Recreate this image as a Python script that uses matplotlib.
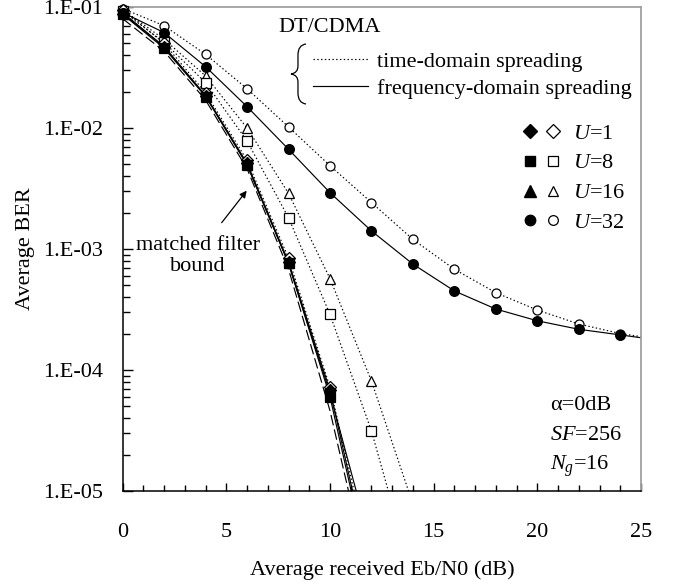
import numpy as np
import matplotlib
matplotlib.use('Agg')
import matplotlib.pyplot as plt
from matplotlib.lines import Line2D
from matplotlib.legend_handler import HandlerTuple
from matplotlib.path import Path
from matplotlib.patches import PathPatch
from matplotlib.ticker import MultipleLocator, LogLocator, FuncFormatter, NullFormatter

plt.rcParams['font.family'] = 'serif'
plt.rcParams['font.serif'] = ['Liberation Serif', 'DejaVu Serif']
plt.rcParams['mathtext.fontset'] = 'custom'
plt.rcParams['mathtext.rm'] = 'Liberation Serif'
plt.rcParams['mathtext.it'] = 'Liberation Serif:italic'
plt.rcParams['font.size'] = 16

# Eb/N0 (dB) grids
snr_short = [0, 2, 4, 6, 8, 10, 12]
snr_mid = [0, 2, 4, 6, 8, 10, 12, 14]
snr_long = [0, 2, 4, 6, 8, 10, 12, 14, 16, 18, 20, 22, 24, 26]

# matched filter bound
ber_bound = [0.080, 0.043, 0.0170, 0.0046, 6.8e-4, 4.6e-5, 1.5e-6]

# frequency-domain spreading (filled markers, solid lines)
ber_fd_u1 = [0.088, 0.047, 0.0185, 0.0051, 7.8e-4, 6.8e-5, 2.0e-6]
ber_fd_u8 = [0.087, 0.0456, 0.0182, 0.00494, 7.6e-4, 6.0e-5, 1.8e-6]
ber_fd_u16 = [0.090, 0.047, 0.0185, 0.0050, 7.6e-4, 6.4e-5, 3.4e-6]
ber_fd_u32 = [0.090, 0.0614, 0.0321, 0.0150, 0.00667, 0.00292, 0.00141,
              7.5e-4, 4.5e-4, 3.19e-4, 2.55e-4, 2.17e-4, 1.95e-4, 1.75e-4]

# time-domain spreading (open markers, dotted lines)
ber_td_u1 = [0.095, 0.050, 0.0195, 0.0054, 8.4e-4, 7.2e-5, 2.4e-6]
ber_td_u8 = [0.092, 0.051, 0.0237, 0.0078, 0.00181, 2.88e-4, 3.13e-5, 1.9e-6]
ber_td_u16 = [0.095, 0.054, 0.0269, 0.0100, 0.00288, 5.7e-4, 8.1e-5, 7.8e-6]
ber_td_u32 = [0.097, 0.070, 0.0406, 0.0211, 0.0102, 0.00488, 0.00242,
              0.0012, 6.8e-4, 4.35e-4, 3.13e-4, 2.4e-4, 2.0e-4, 1.78e-4]

user_labels = ['$U$=1', '$U$=8', '$U$=16', '$U$=32']

fig = plt.figure(figsize=(6.73, 5.88), dpi=100)
ax = fig.add_axes([0.1823, 0.165, 0.7701, 0.8231])
ax.set_yscale('log')
ax.set_xlim(0, 25)
ax.set_ylim(1e-5, 1e-1)

DOT = (0, (1.2, 2.0))


def axf(px, py):
    # pixel position in the figure -> axes fraction
    return ((px - 122.7) / 518.3, (491 - py) / 484)


def draw(x, y, ls, marker, filled, ms):
    x = np.array(x, dtype=float)
    y = np.array(y, dtype=float)
    ax.plot(x, y, color='black', ls=ls, lw=0.85, zorder=2)
    keep = (x <= 25) & (y >= 1e-5)
    ax.plot(x[keep], y[keep], ls='none', marker=marker, ms=ms,
            mfc='black' if filled else 'white', mec='black', mew=0.9,
            clip_on=False, zorder=3)


ax.plot(snr_short, ber_bound, color='black', ls=(0, (9, 3.5)), lw=0.85, zorder=2)

draw(snr_long, ber_td_u32, DOT, 'o', False, 6.5)
draw(snr_mid, ber_td_u16, DOT, '^', False, 7.5)
draw(snr_mid, ber_td_u8, DOT, 's', False, 6.5)
draw(snr_short, ber_td_u1, DOT, 'D', False, 6.5)
draw(snr_long, ber_fd_u32, '-', 'o', True, 7)
draw(snr_short, ber_fd_u16, '-', '^', True, 7.5)
draw(snr_short, ber_fd_u8, '-', 's', True, 6.5)
draw(snr_short, ber_fd_u1, '-', 'D', True, 6.5)

# axes styling
ax.xaxis.set_major_locator(MultipleLocator(5))
ax.xaxis.set_minor_locator(MultipleLocator(1))
ax.yaxis.set_major_locator(LogLocator(base=10, numticks=10))
ax.yaxis.set_minor_locator(LogLocator(base=10, subs=np.arange(2, 10), numticks=20))
ax.yaxis.set_minor_formatter(NullFormatter())
ax.yaxis.set_major_formatter(FuncFormatter(lambda v, p: '1.E-%02d' % round(-np.log10(v))))
ax.tick_params(axis='both', which='both', direction='in', top=False, right=False,
               width=1.0, labelsize=16)
ax.tick_params(axis='y', which='major', length=7, pad=14)
ax.tick_params(axis='y', which='minor', length=5)
ax.tick_params(axis='x', which='major', length=6, pad=23)
ax.tick_params(axis='x', which='minor', length=4)
for side in ['top', 'right']:
    ax.spines[side].set_color('#a0a0a0')
    ax.spines[side].set_linewidth(1.3)
for side in ['left', 'bottom']:
    ax.spines[side].set_linewidth(1.1)

ax.set_xlabel('Average received Eb/N0 (dB)', fontsize=16)
ax.set_ylabel('Average BER', fontsize=16)
ax.xaxis.set_label_coords(0.5, axf(0, 560)[1])
ax.yaxis.set_label_coords(axf(35, 0)[0], 0.5)

# DT/CDMA line-style legend
ax.text(*axf(278, 28), 'DT/CDMA', transform=ax.transAxes, ha='left', va='center', fontsize=16)
style_handles = [Line2D([], [], color='black', ls=DOT, lw=0.85),
                 Line2D([], [], color='black', ls='-', lw=0.85)]
leg1 = ax.legend(style_handles, ['time-domain spreading', 'frequency-domain spreading'],
                 loc='upper left', bbox_to_anchor=axf(312.7, 51), frameon=False,
                 fontsize=16, handlelength=2.48, handletextpad=0.41,
                 labelspacing=0.3, borderpad=0, borderaxespad=0)
ax.add_artist(leg1)

# curly brace
bx = [axf(*p) for p in [(306, 44), (298, 45), (298, 55), (298, 66), (298, 73), (291, 74),
                        (298, 75), (298, 82), (298, 93), (298, 103), (306, 104)]]
codes = [Path.MOVETO, Path.CURVE3, Path.CURVE3, Path.LINETO, Path.CURVE3, Path.CURVE3,
         Path.CURVE3, Path.CURVE3, Path.LINETO, Path.CURVE3, Path.CURVE3]
ax.add_patch(PathPatch(Path(bx, codes), transform=ax.transAxes, fc='none', ec='black',
                       lw=0.9, clip_on=False))

# marker legend
marker_list = ['D', 's', '^', 'o']
marker_sizes = [7.5, 7, 8, 7.5]
marker_handles = []
for m, s in zip(marker_list, marker_sizes):
    filled_h = Line2D([], [], ls='none', marker=m, ms=s, mfc='black', mec='black')
    open_h = Line2D([], [], ls='none', marker=m, ms=s - 0.5, mfc='white', mec='black', mew=0.9)
    marker_handles.append((filled_h, open_h))
leg2 = ax.legend(marker_handles, user_labels, loc='upper left',
                 bbox_to_anchor=axf(525, 123), frameon=False, fontsize=16,
                 handler_map={tuple: HandlerTuple(ndivide=None, pad=0.57)},
                 handlelength=1.47, handletextpad=0.69, labelspacing=0.42,
                 borderpad=0, borderaxespad=0)

# parameters
ax.text(*axf(550, 410), '\u03b1=0dB', transform=ax.transAxes, ha='left', va='baseline', fontsize=16)
ax.text(*axf(550, 440), '$SF$=256', transform=ax.transAxes, ha='left', va='baseline', fontsize=16)
ax.text(*axf(550, 470), '$N_g$=16', transform=ax.transAxes, ha='left', va='baseline', fontsize=16)

# matched filter bound annotation
ax.text(*axf(198, 256), 'matched filter\nbound', transform=ax.transAxes, ha='center',
        va='center', fontsize=16, linespacing=1.15)
ax.annotate('', xy=axf(246.7, 190.7), xytext=axf(221.7, 222.7), xycoords='axes fraction',
            textcoords='axes fraction',
            arrowprops=dict(arrowstyle='-|>', color='black', lw=0.9, mutation_scale=10,
                            shrinkA=0, shrinkB=0))

fig.savefig('out.png', dpi=100)
